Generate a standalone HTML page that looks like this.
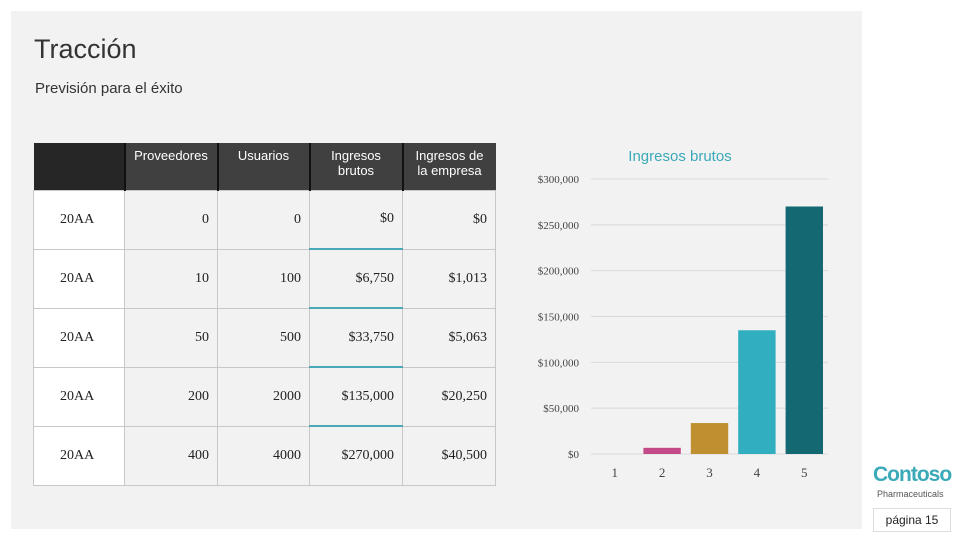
<!DOCTYPE html>
<html><head><meta charset="utf-8"><style>
body{margin:0;width:960px;height:540px;background:#fff;position:relative;overflow:hidden;font-family:"Liberation Sans",sans-serif}
#slide{position:absolute;left:11px;top:11px;width:851px;height:518px;background:#f2f2f2}
.abs{position:absolute}
table{position:absolute;left:33px;top:143px;border-collapse:collapse;font-size:13px;color:#222}
td,th{border:1px solid #c8c8c8;padding:0 8px;box-sizing:border-box}
th{background:#404040;color:#fff;font-weight:normal;height:47px;vertical-align:top;padding-top:5px;text-align:center;border:none;border-left:2px solid #111}
th.c0{background:#262626;border-left:none}
td{height:59px;text-align:right;font-family:"Liberation Serif",serif;font-size:14px}
td.y{background:#fff;text-align:left;padding-left:26px}
td.tb{border-bottom:2px solid #4aa8b8}
</style></head><body>
<div id="slide"></div>
<div class="abs" style="left:34px;top:34px;font-size:27px;color:#333">Tracción</div>
<div class="abs" style="left:35px;top:80px;font-size:15px;color:#333">Previsión para el éxito</div>
<table>
<tr><th class="c0" style="width:91px"></th><th style="width:93px">Proveedores</th><th style="width:92px">Usuarios</th><th style="width:93px">Ingresos brutos</th><th style="width:93px">Ingresos de la empresa</th></tr>
<tr><td class="y">20AA</td><td>0</td><td>0</td><td class="tb">$0</td><td>$0</td></tr>
<tr><td class="y">20AA</td><td>10</td><td>100</td><td class="tb">$6,750</td><td>$1,013</td></tr>
<tr><td class="y">20AA</td><td>50</td><td>500</td><td class="tb">$33,750</td><td>$5,063</td></tr>
<tr><td class="y">20AA</td><td>200</td><td>2000</td><td class="tb">$135,000</td><td>$20,250</td></tr>
<tr><td class="y">20AA</td><td>400</td><td>4000</td><td>$270,000</td><td>$40,500</td></tr>
</table>
<svg id="chart" class="abs" style="left:0;top:0" width="960" height="540">
<text x="680" y="161" text-anchor="middle" fill="#3aa9b8" font-size="15" font-family="Liberation Sans">Ingresos brutos</text>
</svg>
<div class="abs" style="left:873px;top:463px;font-size:21px;color:#3aa9b8;font-weight:bold;letter-spacing:-1px">Contoso</div>
<div class="abs" style="left:877px;top:489px;font-size:9px;color:#555">Pharmaceuticals</div>
<div class="abs" style="left:873px;top:508px;width:76px;height:22px;border:1px solid #ddd;font-size:12px;text-align:center;line-height:22px;color:#222">página 15</div>
<script>
const categories=["1","2","3","4","5"];
const values=[0,6750,33750,135000,270000];
const ticks=[0,50000,100000,150000,200000,250000,300000];
const tickLabels=["$0","$50,000","$100,000","$150,000","$200,000","$250,000","$300,000"];
const colors=["#888","#c44a87","#bf9030","#31afc0","#136872"];
const svg=document.getElementById('chart');const NS='http://www.w3.org/2000/svg';
const y=v=>454-v*275/300000;
const x0=591,bw=(828-591)/categories.length;
const x=i=>x0+i*bw;
ticks.forEach((t,i)=>{
 const l=document.createElementNS(NS,'line');
 
 
 l.setAttribute('x1',x0);l.setAttribute('x2',828);l.setAttribute('y1',y(t));l.setAttribute('y2',y(t));l.setAttribute('stroke','#d9d9d9');svg.appendChild(l);
 const tx=document.createElementNS(NS,'text');
 
 
 tx.setAttribute('x',579);tx.setAttribute('y',y(t)+4);tx.setAttribute('text-anchor','end');tx.setAttribute('font-size','11');tx.setAttribute('font-family','Liberation Serif');tx.setAttribute('fill','#444');tx.textContent=tickLabels[i];svg.appendChild(tx);
});
categories.forEach((c,i)=>{
 const r=document.createElementNS(NS,'rect');
 
 
 r.setAttribute('x',x(i)+5);r.setAttribute('width',bw-10);r.setAttribute('y',y(values[i]));r.setAttribute('height',454-y(values[i]));r.setAttribute('fill',colors[i]);svg.appendChild(r);
 const tx=document.createElementNS(NS,'text');
 
 
 tx.setAttribute('x',x(i)+bw/2);tx.setAttribute('y',477);tx.setAttribute('text-anchor','middle');tx.setAttribute('font-size','13');tx.setAttribute('font-family','Liberation Serif');tx.setAttribute('fill','#444');tx.textContent=c;svg.appendChild(tx);
});
</script>
</body></html>
